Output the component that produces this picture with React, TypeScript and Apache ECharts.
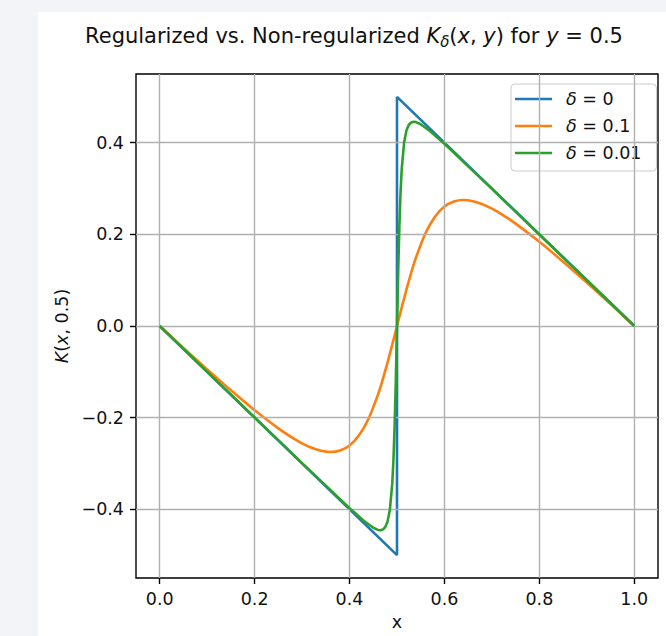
import React, { useEffect, useRef } from 'react';
import * as echarts from 'echarts';

const FONT = "'DejaVu Sans', sans-serif";
const TXT = '#111111';

const xTicks = [0, 0.2, 0.4, 0.6, 0.8, 1.0];
const yTicks = [-0.4, -0.2, 0, 0.2, 0.4];
const seriesNames = ['δ = 0', 'δ = 0.1', 'δ = 0.01'];
const seriesColors = ['#1f77b4', '#ff7f0e', '#2ca02c'];

// δ = 0
const blueX = [0, 0.5, 0.5, 1];
const blueY = [0, -0.5, 0.5, 0];

// δ = 0.1
const orangeX = [0, 0.05, 0.1, 0.15, 0.2, 0.25, 0.28, 0.3, 0.32, 0.34, 0.36, 0.38, 0.4, 0.42, 0.44, 0.46, 0.47, 0.48, 0.49, 0.5,
  0.51, 0.52, 0.53, 0.54, 0.56, 0.58, 0.6, 0.62, 0.64, 0.66, 0.68, 0.7, 0.72, 0.75, 0.8, 0.85, 0.9, 0.95, 1.0];
const orangeY = [0, -0.0478, -0.0947, -0.1403, -0.1837, -0.2234, -0.2442, -0.2561, -0.2658, -0.2724, -0.2749, -0.2717, -0.2606, -0.2385, -0.2024, -0.1494, -0.1165, -0.08, -0.0407, 0,
  0.0407, 0.08, 0.1165, 0.1494, 0.2024, 0.2385, 0.2606, 0.2717, 0.2749, 0.2724, 0.2658, 0.2561, 0.2442, 0.2234, 0.1837, 0.1403, 0.0947, 0.0478, 0];

// δ = 0.01
const greenX = [0, 0.1, 0.2, 0.3, 0.4, 0.43, 0.45, 0.46, 0.465, 0.47, 0.475, 0.48, 0.485, 0.49, 0.4925, 0.495, 0.4975, 0.5,
  0.5025, 0.505, 0.5075, 0.51, 0.515, 0.52, 0.525, 0.53, 0.535, 0.54, 0.55, 0.57, 0.6, 0.7, 0.8, 0.9, 1.0];
const greenY = [0, -0.0998, -0.1997, -0.2994, -0.3975, -0.425, -0.4403, -0.4451, -0.4458, -0.4443, -0.4392, -0.4272, -0.401, -0.3436, -0.2925, -0.2186, -0.1188, 0,
  0.1188, 0.2186, 0.2925, 0.3436, 0.401, 0.4272, 0.4392, 0.4443, 0.4458, 0.4451, 0.4403, 0.425, 0.3975, 0.2994, 0.1997, 0.0998, 0];

const pairs = (xs: number[], ys: number[]) => xs.map((x, i) => [x, ys[i]]);
const fmt = (v: number) => (v < -1e-9 ? '\u2212' : '') + Math.abs(v).toFixed(1);

const labelStyle = { fontFamily: FONT, fontSize: 17.5, color: TXT };

export default function App() {
  const ref = useRef<HTMLDivElement>(null);
  useEffect(() => {
    if (!ref.current) return;
    const chart = echarts.init(ref.current, null, { renderer: 'svg' });
    const dataSets = [pairs(blueX, blueY), pairs(orangeX, orangeY), pairs(greenX, greenY)];
    const smoothing = [false, 0.3, false];
    chart.setOption({
      animation: false,
      backgroundColor: 'transparent',
      graphic: [
        {
          type: 'text',
          x: 354,
          y: 36,
          style: {
            text: '{n|Regularized vs. Non-regularized }{i|K}{s|δ}{n|(}{i|x}{n|, }{i|y}{n|) for }{i|y}{n| = 0.5}',
            align: 'center',
            verticalAlign: 'middle',
            rich: {
              n: { fontFamily: FONT, fontSize: 21, fill: TXT, lineHeight: 26 },
              i: { fontFamily: FONT, fontSize: 21, fontStyle: 'italic', fill: TXT, lineHeight: 26 },
              s: { fontFamily: FONT, fontSize: 15, fontStyle: 'italic', fill: TXT, lineHeight: 16, verticalAlign: 'bottom' },
            },
          },
        },
      ],
      grid: {
        left: 136, top: 74, width: 522, height: 508,
        show: true, borderColor: '#000', borderWidth: 1.4, backgroundColor: '#fff',
      },
      legend: {
        data: seriesNames,
        orient: 'vertical',
        left: 511,
        top: 84,
        icon: 'rect',
        itemWidth: 37,
        itemHeight: 2.6,
        itemGap: 9,
        padding: [6, 15, 9, 4],
        backgroundColor: 'rgba(255,255,255,0.8)',
        borderColor: '#cccccc',
        borderWidth: 1,
        borderRadius: 4,
        formatter: (name: string) => `{i|δ}{n|${name.slice(1)}}`,
        textStyle: {
          fontFamily: FONT, fontSize: 17.5, color: TXT, padding: [0, 0, 0, 9], lineHeight: 18,
          rich: {
            i: { fontFamily: FONT, fontSize: 17.5, fontStyle: 'italic', color: TXT, lineHeight: 18 },
            n: { fontFamily: FONT, fontSize: 17.5, color: TXT, lineHeight: 18 },
          },
        },
      },
      xAxis: {
        type: 'value', min: -0.05, max: 1.05,
        axisLine: { show: false, onZero: false },
        axisTick: { show: true, customValues: xTicks, length: 6, lineStyle: { color: '#000', width: 1.4 } },
        axisLabel: { customValues: xTicks, formatter: fmt, margin: 12, ...labelStyle },
        splitLine: { show: false },
        name: 'x', nameLocation: 'middle', nameGap: 35,
        nameTextStyle: { ...labelStyle },
      },
      yAxis: {
        type: 'value', min: -0.55, max: 0.55,
        axisLine: { show: false, onZero: false },
        axisTick: { show: true, customValues: yTicks, length: 6, lineStyle: { color: '#000', width: 1.4 } },
        axisLabel: { customValues: yTicks, formatter: fmt, margin: 12, ...labelStyle },
        splitLine: { show: false },
        name: '{i|K}{n|(}{i|x}{n|, 0.5)}', nameLocation: 'middle', nameGap: 64,
        nameTextStyle: {
          ...labelStyle,
          rich: {
            i: { fontFamily: FONT, fontSize: 17.5, fontStyle: 'italic', color: TXT },
            n: { fontFamily: FONT, fontSize: 17.5, color: TXT },
          },
        },
      },
      series: [
        {
          type: 'line', name: '__grid', data: [], silent: true, z: 1, symbol: 'none',
          markLine: {
            silent: true, symbol: ['none', 'none'], label: { show: false },
            lineStyle: { color: '#b0b0b0', width: 1.4, type: 'solid' },
            emphasis: { disabled: true },
            data: [...xTicks.map((v) => ({ xAxis: v })), ...yTicks.map((v) => ({ yAxis: v }))],
          },
        },
        ...seriesNames.map((name, i) => ({
          type: 'line', name, data: dataSets[i], symbol: 'none', showSymbol: false, z: 3 + i,
          smooth: smoothing[i],
          lineStyle: { width: 2.6, color: seriesColors[i] },
          itemStyle: { color: seriesColors[i] },
          emphasis: { disabled: true },
        })),
      ],
    });
    return () => chart.dispose();
  }, []);
  return (
    <div style={{ position: 'absolute', left: 0, top: 0, width: 666, height: 636, background: '#f2f4f8', overflow: 'hidden' }}>
      <div style={{ position: 'absolute', left: 38, top: 12, right: 0, bottom: 0, background: '#ffffff' }} />
      <div ref={ref} style={{ position: 'absolute', left: 0, top: 0, width: 666, height: 636 }} />
    </div>
  );
}
